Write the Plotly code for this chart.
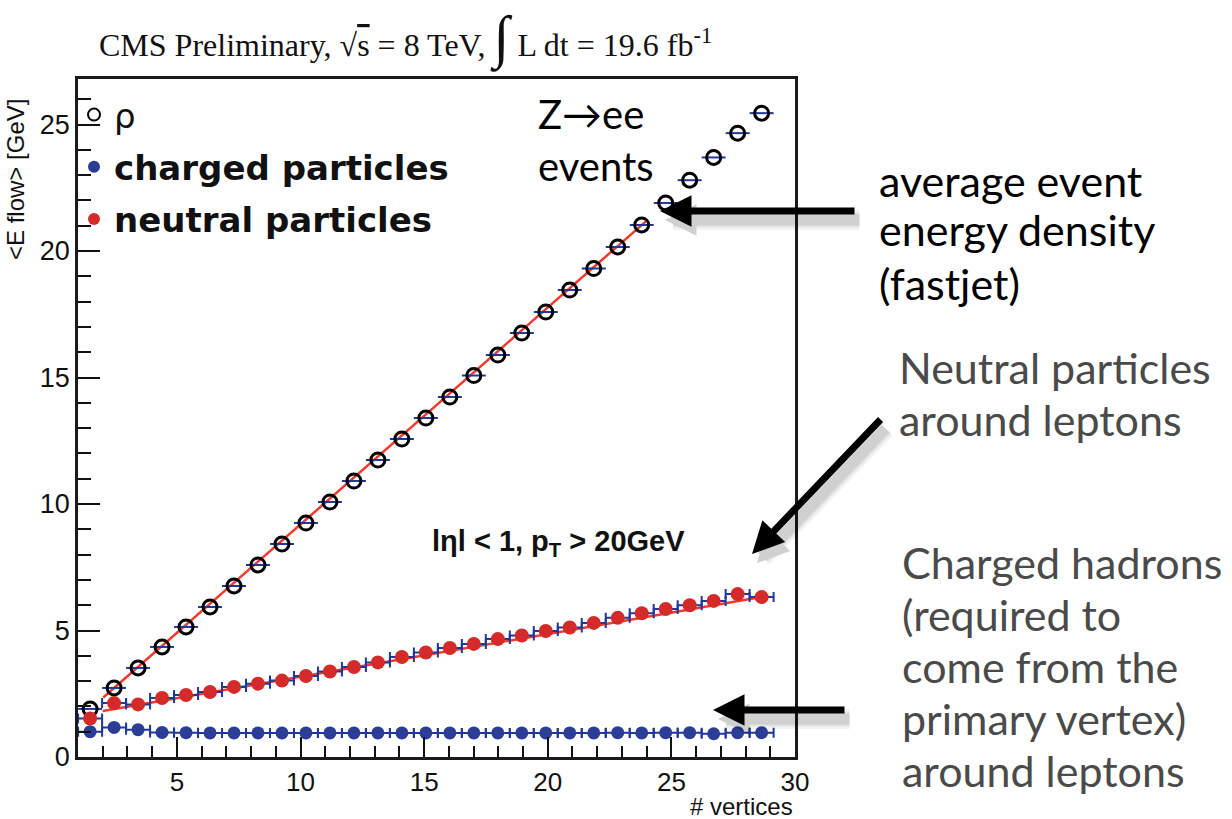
import plotly.graph_objects as go

# ---- data: mean energy flow vs number of reconstructed vertices ----
nvtx = [1.49, 2.46, 3.43, 4.40, 5.37, 6.34, 7.31, 8.28, 9.25, 10.22,
        11.19, 12.16, 13.13, 14.10, 15.07, 16.04, 17.01, 17.98, 18.95, 19.92,
        20.89, 21.86, 22.83, 23.80, 24.77, 25.74, 26.71, 27.68, 28.65]

rho = [1.90, 2.73, 3.52, 4.35, 5.14, 5.93, 6.76, 7.59, 8.42, 9.25,
       10.08, 10.91, 11.74, 12.57, 13.40, 14.23, 15.08, 15.89, 16.76, 17.59,
       18.46, 19.31, 20.16, 21.03, 21.90, 22.80, 23.70, 24.66, 25.45]

charged = [1.00, 1.17, 1.08, 0.97, 0.96, 0.95, 0.95, 0.95, 0.95, 0.95,
           0.95, 0.95, 0.95, 0.95, 0.95, 0.95, 0.95, 0.95, 0.95, 0.95,
           0.95, 0.95, 0.96, 0.95, 0.96, 0.96, 0.92, 0.96, 0.96]

neutral = [1.52, 2.13, 2.08, 2.33, 2.45, 2.57, 2.77, 2.90, 3.02, 3.20,
           3.38, 3.56, 3.74, 3.95, 4.13, 4.31, 4.47, 4.66, 4.80, 4.98,
           5.12, 5.30, 5.50, 5.68, 5.85, 6.00, 6.17, 6.44, 6.32]

bin_half_width = 0.485

# linear fits (intercept, slope, fit range)
rho_fit = dict(p0=0.62, p1=0.8575, xmin=2.02, xmax=23.97)
neutral_fit = dict(p0=1.48, p1=0.169, xmin=2.0, xmax=28.7)

x_ticks = [5, 10, 15, 20, 25, 30]
y_ticks = [0, 5, 10, 15, 20, 25]

# ---- styling ----
W, H = 1232, 819
ML, MR, MT, MB = 78, 437, 79, 62
PW, PH = W - ML - MR, H - MT - MB

BLUE = "#2b3d96"
BAR = "#22379a"
RED = "#d42a2a"
FIT = "#f23a2e"
GRAY = "#4a4a4a"
AXFONT = "Liberation Sans, Arial, sans-serif"
NOTEFONT = "Lato, Open Sans, sans-serif"


def px(x):
    return (x - ML) / PW


def py(y):
    return (H - MB - y) / PH


def fit_line(f):
    xs = [f["xmin"], f["xmax"]]
    return xs, [f["p0"] + f["p1"] * x for x in xs]


fig = go.Figure()

for f in (rho_fit, neutral_fit):
    fx, fy = fit_line(f)
    fig.add_trace(go.Scatter(x=fx, y=fy, mode="lines", showlegend=False,
                             line=dict(color=FIT, width=2.5), hoverinfo="skip"))

fig.add_trace(go.Scatter(
    x=nvtx, y=rho, mode="markers", name="ρ", legendgroup="a",
    marker=dict(symbol="circle-open", size=14, color="black", line=dict(width=3)),
    error_x=dict(type="constant", value=bin_half_width, color=BAR, thickness=2, width=0),
))
fig.add_trace(go.Scatter(
    x=nvtx, y=charged, mode="markers", name="<b>charged particles</b>", legendgroup="b",
    marker=dict(symbol="circle", size=13, color=BLUE),
    error_x=dict(type="constant", value=bin_half_width, color=BAR, thickness=2, width=5),
))
fig.add_trace(go.Scatter(
    x=nvtx, y=neutral, mode="markers", name="<b>neutral particles</b>", legendgroup="c",
    marker=dict(symbol="circle", size=14, color=RED),
    error_x=dict(type="constant", value=bin_half_width, color=BAR, thickness=2, width=5),
))

annotations = []

# header
annotations.append(dict(
    x=px(405), y=py(38), xref="paper", yref="paper", showarrow=False,
    xanchor="center", yanchor="middle",
    text="CMS Preliminary, √<span style='text-decoration:overline'>s</span> = 8 TeV, "
         "<span style='font-size:58px'>∫</span> L dt = 19.6 fb<sup>-1</sup>",
    font=dict(family="Liberation Serif, Times New Roman, serif", size=32, color="#111"),
))

# axis titles
annotations.append(dict(
    x=px(15), y=py(180), xref="paper", yref="paper", showarrow=False,
    textangle=-90, xanchor="center", yanchor="middle",
    text="&lt;E flow&gt; [GeV]", font=dict(family=AXFONT, size=24, color="#111"),
))
annotations.append(dict(
    x=1.0, y=py(806), xref="paper", yref="paper", showarrow=False,
    xanchor="right", yanchor="middle",
    text="# vertices", font=dict(family=AXFONT, size=24, color="#111"),
))

# labels inside the frame
annotations.append(dict(
    x=px(536), y=py(114), xref="paper", yref="paper", showarrow=False,
    xanchor="left", yanchor="middle", text="Z→ee",
    font=dict(family=NOTEFONT, size=40, color="black"),
))
annotations.append(dict(
    x=px(536), y=py(166), xref="paper", yref="paper", showarrow=False,
    xanchor="left", yanchor="middle", text="events",
    font=dict(family=NOTEFONT, size=40, color="black"),
))
annotations.append(dict(
    x=px(430), y=py(543), xref="paper", yref="paper", showarrow=False,
    xanchor="left", yanchor="middle", text="<b>lηl &lt; 1, p<sub>T</sub> &gt; 20GeV</b>",
    font=dict(family="Liberation Sans, Arial, sans-serif", size=29, color="#111"),
))

# explanatory notes beside the frame
notes = [
    ("average event", 877, 180, "black"),
    ("energy density", 877, 230, "black"),
    ("(fastjet)", 877, 283, "black"),
    ("Neutral particles", 897, 367, GRAY),
    ("around leptons", 897, 420, GRAY),
    ("Charged hadrons", 900, 562, GRAY),
    ("(required to", 900, 614, GRAY),
    ("come from the", 900, 666, GRAY),
    ("primary vertex)", 900, 718, GRAY),
    ("around leptons", 900, 770, GRAY),
]
for txt, xx, yy, col in notes:
    annotations.append(dict(
        x=px(xx), y=py(yy), xref="paper", yref="paper", showarrow=False,
        xanchor="left", yanchor="middle", text=txt,
        font=dict(family=NOTEFONT, size=43, color=col),
    ))

# pointer arrows (tip, tail) with a soft drop shadow underneath
arrows = [((660, 211), (856, 211)),
          ((752, 554), (882, 418)),
          ((713, 710), (846, 710))]
shadow_layers = [(20, "rgba(0,0,0,0.045)"), (15, "rgba(0,0,0,0.06)"),
                 (11, "rgba(0,0,0,0.08)")]
for (tx, ty), (sx, sy) in arrows:
    for w, c in shadow_layers:
        annotations.append(dict(
            x=px(tx + 5), y=py(ty + 9), xref="paper", yref="paper",
            ax=sx - tx, ay=sy - ty, showarrow=True, text="",
            arrowhead=2, arrowsize=max(0.3, 0.9 * 7 / w), arrowwidth=w,
            arrowcolor=c, standoff=0,
        ))
    annotations.append(dict(
        x=px(tx), y=py(ty), xref="paper", yref="paper",
        ax=sx - tx, ay=sy - ty, showarrow=True, text="",
        arrowhead=2, arrowsize=0.9, arrowwidth=7, arrowcolor="black", standoff=0,
    ))

fig.update_layout(
    width=W, height=H,
    margin=dict(l=ML, r=MR, t=MT, b=MB),
    paper_bgcolor="white", plot_bgcolor="white",
    annotations=annotations,
    legend=dict(
        x=px(74), y=py(86), xanchor="left", yanchor="top",
        font=dict(family="DejaVu Sans, Verdana, sans-serif", size=34, color="#111"),
        bgcolor="rgba(0,0,0,0)", tracegroupgap=5, itemsizing="constant",
    ),
    xaxis=dict(
        range=[1, 30], tickvals=x_ticks, ticktext=[str(v) for v in x_ticks],
        showgrid=False, zeroline=False,
        showline=True, mirror=True, linecolor="#1a1a1a", linewidth=2.5,
        ticks="inside", ticklen=20, tickwidth=2, tickcolor="#111",
        minor=dict(ticks="inside", ticklen=11, tickwidth=2, tickcolor="#111", dtick=1, tick0=0),
        tickfont=dict(family=AXFONT, size=26, color="#111"),
    ),
    yaxis=dict(
        range=[0, 26.8], tickvals=y_ticks, ticktext=[str(v) for v in y_ticks],
        showgrid=False, zeroline=False,
        showline=True, mirror=True, linecolor="#1a1a1a", linewidth=2.5,
        ticks="inside", ticklen=22, tickwidth=2, tickcolor="#111",
        minor=dict(ticks="inside", ticklen=13, tickwidth=2, tickcolor="#111", dtick=1, tick0=0),
        tickfont=dict(family=AXFONT, size=27, color="#111"),
    ),
)

fig.write_html("out.html")
